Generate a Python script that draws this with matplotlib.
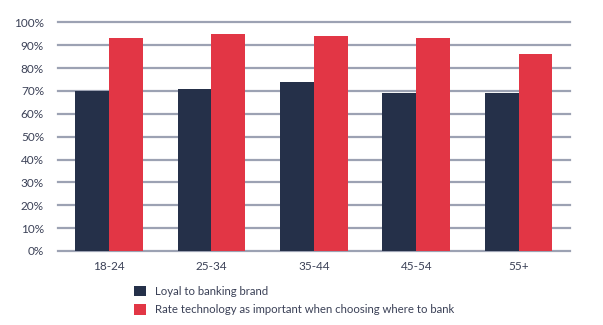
import matplotlib
matplotlib.use("Agg")
import matplotlib.pyplot as plt
import numpy as np

categories = ["18-24", "25-34", "35-44", "45-54", "55+"]
loyal = [70, 71, 74, 69, 69]
tech = [93, 95, 94, 93, 86]
yticks = [0, 10, 20, 30, 40, 50, 60, 70, 80, 90, 100]
series_names = ["Loyal to banking brand", "Rate technology as important when choosing where to bank"]

navy = "#253049"
red = "#E23645"
grid_c = "#9CA2B3"
txt = "#3B4157"

plt.rcParams['font.family'] = ['Lato', 'DejaVu Sans']

fig = plt.figure(figsize=(6.03, 3.25), dpi=100)
ax = fig.add_axes([0.096, 0.2277, 0.849, 0.7033])

x = np.arange(len(categories))
w = 0.33
ax.bar(x - w/2, loyal, w, color=navy, zorder=3, label=series_names[0])
ax.bar(x + w/2, tech, w, color=red, zorder=3, label=series_names[1])

ax.set_xlim(-0.5, len(categories) - 0.5)
ax.set_ylim(0, 100)
ax.set_yticks(yticks)
ax.set_yticklabels([f"{v}%" for v in yticks])
ax.set_xticks(x)
ax.set_xticklabels(categories)
for yv in yticks:
    ax.axhline(yv, color=grid_c, lw=1.6, zorder=1, clip_on=False)
for s in ax.spines.values():
    s.set_visible(False)
ax.tick_params(axis='both', length=0, labelsize=8.5, colors=txt)
ax.tick_params(axis='y', pad=10)
ax.tick_params(axis='x', pad=7)

leg = fig.legend(loc='upper left', bbox_to_anchor=(0.215, 0.135), ncol=1, frameon=False,
                 fontsize=8.2, handlelength=1.0, handleheight=1.05, handletextpad=0.85,
                 labelspacing=0.65, borderaxespad=0)
for t in leg.get_texts():
    t.set_color(txt)

fig.savefig("out.png", dpi=100)
